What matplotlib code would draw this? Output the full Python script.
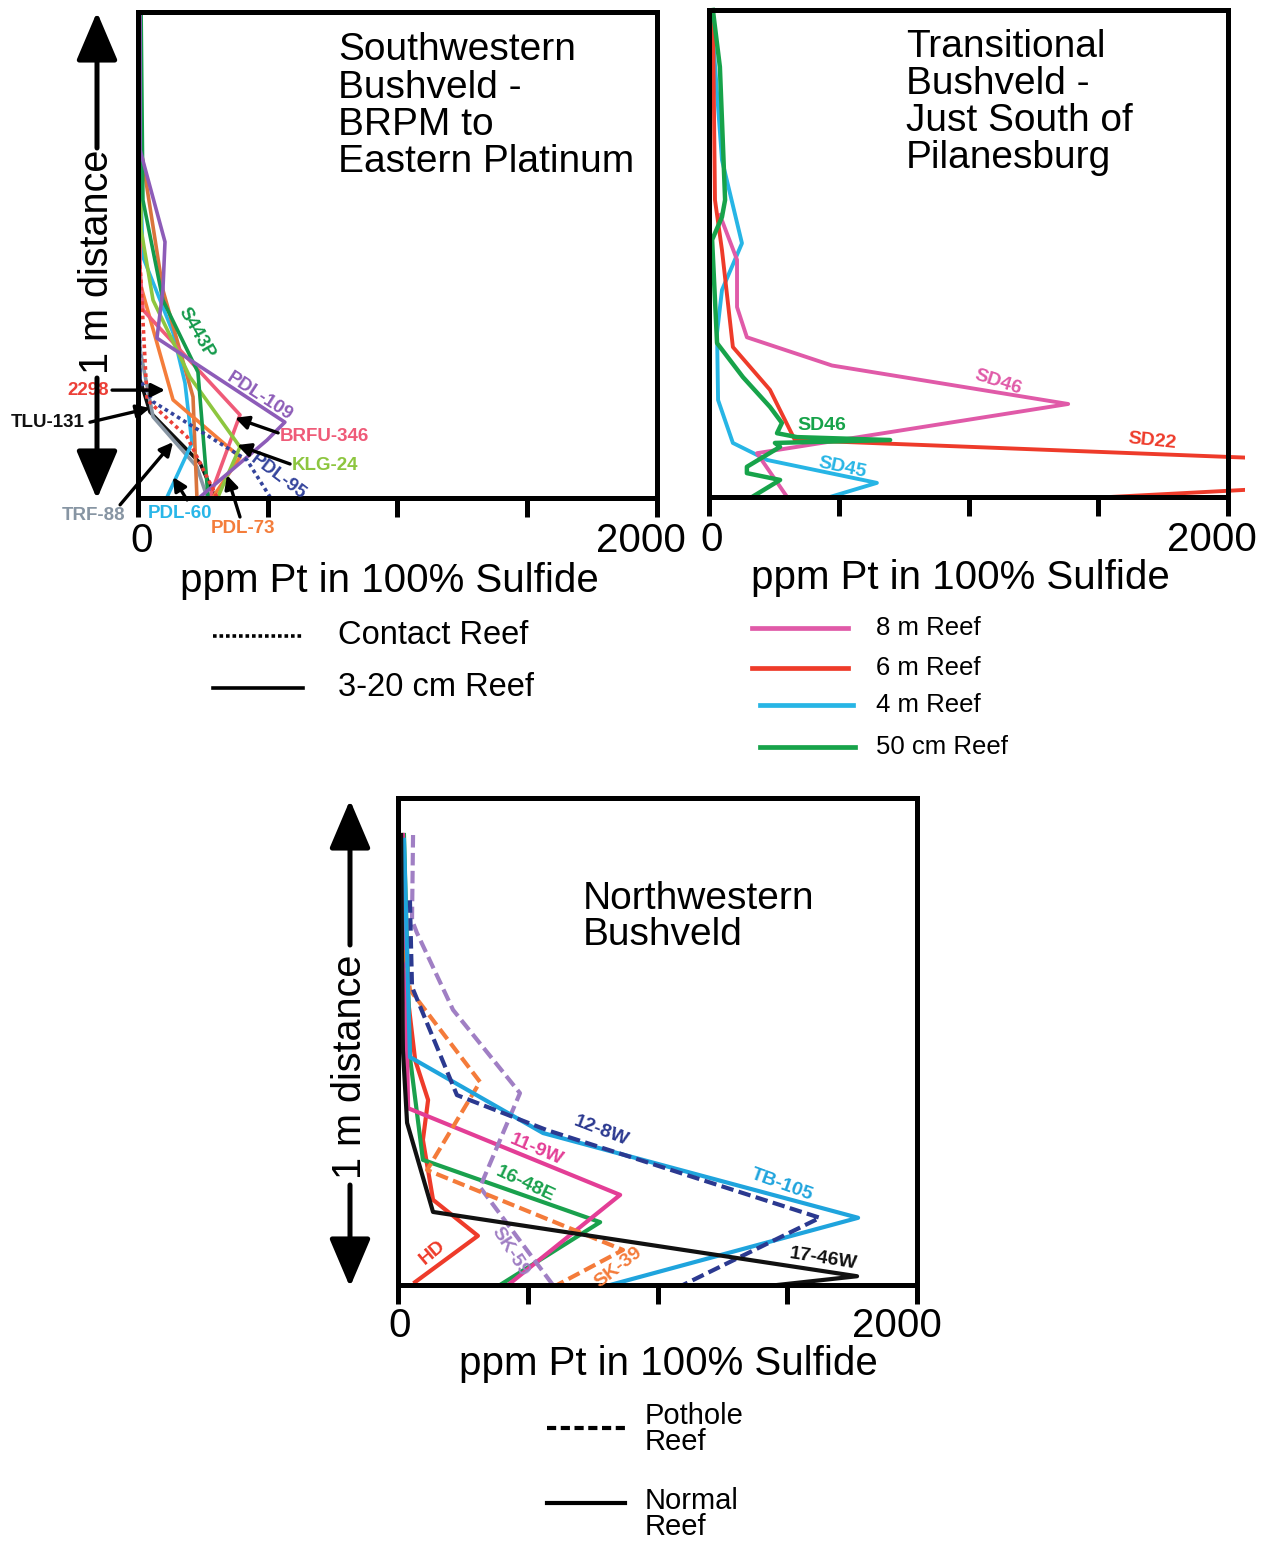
import matplotlib
matplotlib.use('Agg')
import matplotlib.pyplot as plt
import matplotlib.transforms as mtransforms
from matplotlib.lines import Line2D
from matplotlib.patches import FancyArrowPatch, Rectangle, ArrowStyle

plt.rcParams['font.family'] = ['Liberation Sans', 'DejaVu Sans']

# x = ppm Pt in 100% sulfide, y = position inside the 1 m window (0 = base, 100 = top)

# --- Southwestern Bushveld - BRPM to Eastern Platinum
sw_pdl109_x = [8, 8, 104, 96, 73, 566, 497, 239]
sw_pdl109_y = [100, 71.6, 52.7, 42.8, 32.9, 15.6, 11.9, 0.2]
sw_s443p_x = [12, 19, 96, 231, 270]
sw_s443p_y = [100, 61.3, 40.7, 25.9, 0.2]
sw_klg24_x = [8, 12, 58, 200, 393, 308]
sw_klg24_y = [100, 55.2, 40.7, 24.9, 10.5, 0.2]
sw_brfu346_x = [4, 8, 19, 393, 277]
sw_brfu346_y = [100, 46.9, 38.7, 17.1, 0.2]
sw_pdl73_x = [4, 8, 135, 393, 289]
sw_pdl73_y = [100, 44.2, 20.2, 8.4, 0.2]
sw_orange_x = [8, 12, 96, 212, 227]
sw_orange_y = [100, 71.6, 42.8, 20.8, 0.2]
sw_pdl60_x = [8, 12, 19, 135, 181, 208, 112]
sw_pdl60_y = [100, 61.3, 49.6, 34, 23.7, 11.3, 0.2]
sw_2298_x = [8, 19, 35, 189, 304]
sw_2298_y = [47.9, 36.6, 20.2, 12.6, 0.2]
sw_pdl95_x = [4, 8, 58, 420, 509]
sw_pdl95_y = [40, 24.3, 19.8, 7.8, 0.2]
sw_trf88_x = [0, 8, 58, 227, 266]
sw_trf88_y = [40.7, 30.5, 16.7, 6.4, 0.2]
sw_tlu131_x = [0, 8, 46, 239, 297]
sw_tlu131_y = [38.7, 24.3, 17.7, 7.2, 0.2]

# --- Transitional Bushveld - just south of Pilanesburg
tr_sd46_8m_x = [42, 108, 108, 146, 474, 1384, 185, 301]
tr_sd46_8m_y = [57.9, 48.7, 39.0, 32.8, 27.0, 19.1, 9.0, 0]
tr_sd22_x = [15, 23, 50, 92, 235, 331, 2400, 2400, 1545]
tr_sd22_y = [100, 61, 50.7, 30.8, 22, 11.7, 7.4, 2.4, 0]
tr_sd45_x = [8, 50, 127, 50, 31, 35, 92, 224, 647, 466]
tr_sd45_y = [99.6, 69.2, 52.1, 42.5, 33.7, 19.9, 11.1, 7.6, 2.9, 0]
tr_sd46_50_x = [15, 42, 62, 50, 12, 31, 131, 235, 281, 262, 339, 698, 254, 274, 146, 146, 274, 166]
tr_sd46_50_y = [100, 88.3, 61, 57.5, 52.8, 31.6, 24.6, 18.5, 15.2, 13.1, 12.3, 11.7, 11.1, 10.3, 6.2, 4.9, 3.5, 0]

# --- Northwestern Bushveld
nw_1746w_x = [12, 19, 35, 135, 1769, 1461]
nw_1746w_y = [92.4, 48.2, 33.3, 15.0, 1.8, 0]
nw_tb105_x = [23, 46, 559, 1773, 817]
nw_tb105_y = [91.4, 46.8, 31.2, 13.8, 0]
nw_128w_x = [46, 54, 227, 574, 1626, 1098]
nw_128w_y = [79, 61.2, 39, 31.8, 13.8, 0]
nw_sk59_x = [58, 54, 73, 212, 470, 316, 597]
nw_sk59_y = [92.4, 74.9, 72.3, 56.5, 39.4, 20.1, 0]
nw_sk39_x = [27, 46, 316, 112, 867, 613]
nw_sk39_y = [68.8, 60.6, 41.7, 23.6, 7.2, 0]
nw_hd_x = [15, 39, 66, 116, 96, 135, 308, 66]
nw_hd_y = [92.4, 58.5, 46.2, 38, 29.8, 17.5, 10.1, 0.6]
nw_119w_x = [19, 31, 39, 856, 424]
nw_119w_y = [92.4, 58.5, 36.3, 18.5, 0]
nw_1648e_x = [23, 46, 96, 779, 393]
nw_1648e_y = [92.4, 46.8, 25.7, 12.9, 0]

x_ticks = [0, 500, 1000, 1500, 2000]

W, H = 1271, 1541
fig = plt.figure(figsize=(W / 100, H / 100), dpi=100)


def fx(px):
    return px / W


def fy(py):
    return 1 - py / H


def make_axes(left, top, right, bottom, lab_y, xlab_x, xlab_y, zero_x, end_x):
    ax = fig.add_axes([fx(left), fy(bottom), (right - left) / W, (bottom - top) / H])
    ax.set_xlim(0, 2000)
    ax.set_ylim(0, 100)
    ax.set_yticks([])
    ax.set_xticks(x_ticks)
    ax.tick_params(axis='x', direction='out', length=14, width=3.6, labelbottom=False)
    for s in ax.spines.values():
        s.set_linewidth(3.6)
    blend = mtransforms.blended_transform_factory(ax.transData, ax.transAxes)
    ax.text(zero_x, lab_y, '0', transform=blend, ha='center', va='center', fontsize=29)
    ax.text(end_x, lab_y, '2000', transform=blend, ha='center', va='center', fontsize=29)
    ax.text(xlab_x, xlab_y, 'ppm Pt in 100% Sulfide', transform=ax.transAxes,
            ha='center', va='center', fontsize=29)
    return ax


def dist_arrow(x, top, bottom, text_top, text_bottom, text_mid):
    style = ArrowStyle('-|>', head_length=0.4, head_width=0.17)
    for a, b in [((x, text_top), (x, top)), ((x, text_bottom), (x, bottom))]:
        fig.add_artist(FancyArrowPatch((fx(a[0]), fy(a[1])), (fx(b[0]), fy(b[1])),
                                       transform=fig.transFigure, arrowstyle=style,
                                       mutation_scale=75, lw=3.6, color='k',
                                       shrinkA=0, shrinkB=0))
    fig.text(fx(x), fy(text_mid), '1 m distance', rotation=90,
             ha='center', va='center', fontsize=28.5)


def legend_line(x0, x1, y, **kw):
    fig.add_artist(Line2D([fx(x0), fx(x1)], [fy(y), fy(y)], transform=fig.transFigure, **kw))


# ================= panel 1
ax1 = make_axes(138, 12, 657, 498, -0.088, 0.485, -0.17, 14, 1940)
ax1.text(0.385, 0.958, 'Southwestern\nBushveld -\nBRPM to\nEastern Platinum',
         transform=ax1.transAxes, ha='left', va='top', fontsize=28, linespacing=1.04)

sw_series = [
    (sw_tlu131_x, sw_tlu131_y, '#111111', '-'),
    (sw_trf88_x, sw_trf88_y, '#8795a3', '-'),
    (sw_pdl60_x, sw_pdl60_y, '#29b6e8', '-'),
    (sw_orange_x, sw_orange_y, '#d9743c', '-'),
    (sw_pdl73_x, sw_pdl73_y, '#f47d3b', '-'),
    (sw_brfu346_x, sw_brfu346_y, '#ef5b78', '-'),
    (sw_klg24_x, sw_klg24_y, '#8dc63f', '-'),
    (sw_s443p_x, sw_s443p_y, '#149a4b', '-'),
    (sw_pdl109_x, sw_pdl109_y, '#8d5cb8', '-'),
    (sw_2298_x, sw_2298_y, '#ec3f37', (0, (1, 1))),
    (sw_pdl95_x, sw_pdl95_y, '#34449c', (0, (1, 1))),
]
for xs, ys, c, ls in sw_series:
    ax1.plot(xs, ys, color=c, ls=ls, lw=2.6, clip_on=False, zorder=2)

lab = dict(fontsize=13.5, fontweight='bold', ha='center', va='center')
ax1.text(227, 34, 'S443P', color='#149a4b', rotation=-60, **lab)
ax1.text(470, 20.8, 'PDL-109', color='#8d5cb8', rotation=-33, **lab)
ax1.text(540, 4.3, 'PDL-95', color='#34449c', rotation=-37, **lab)

arrow_kw = dict(arrowstyle='-|>', color='k', lw=2.4, mutation_scale=20, shrinkA=0, shrinkB=0)
callouts = [
    ('2298', '#ec3f37', (-193, 22.2), (-100, 22.2), (104, 22.2), 'center'),
    ('TLU-131', '#111111', (-347, 15.6), (-185, 15.6), (46, 18.5), 'center'),
    ('BRFU-346', '#ef5b78', (547, 12.6), (540, 13.4), (374, 16.5), 'left'),
    ('KLG-24', '#8dc63f', (594, 6.6), (586, 7.0), (382, 10.9), 'left'),
    ('TRF-88', '#8795a3', (-170, -3.5), (-69, -1.4), (135, 11.5), 'center'),
    ('PDL-60', '#29b6e8', (162, -3.1), (189, -0.4), (135, 4.3), 'center'),
    ('PDL-73', '#f47d3b', (405, -6.2), (393, -3.9), (343, 4.7), 'center'),
]
for s, c, tpos, tail, head, ha in callouts:
    ax1.annotate('', xy=head, xytext=tail, arrowprops=arrow_kw, annotation_clip=False)
    ax1.text(tpos[0], tpos[1], s, color=c, fontsize=13.5, fontweight='bold',
             ha=ha, va='center')

dist_arrow(97, 12, 499, 148, 378, 262)

legend_line(213, 303, 636, color='k', lw=2.6, ls=(0, (1, 0.8)))
legend_line(213, 303, 688, color='k', lw=2.6)
fig.text(fx(338), fy(636), 'Contact Reef', ha='left', va='center', fontsize=23.5)
fig.text(fx(338), fy(688), '3-20 cm Reef', ha='left', va='center', fontsize=23.5)

# ================= panel 2
ax2 = make_axes(709, 10, 1228, 497, -0.088, 0.484, -0.166, 12, 1938)
ax2.text(0.38, 0.962, 'Transitional\nBushveld -\nJust South of\nPilanesburg',
         transform=ax2.transAxes, ha='left', va='top', fontsize=28, linespacing=1.04)

c_pink, c_red, c_cyan, c_green = '#e05aa8', '#ee3b2a', '#27b5e5', '#17a34a'
ax2.plot(tr_sd45_x, tr_sd45_y, color=c_cyan, lw=2.8, clip_on=False)
ax2.plot(tr_sd46_8m_x, tr_sd46_8m_y, color=c_pink, lw=2.8, clip_on=False)
red_line, = ax2.plot(tr_sd22_x, tr_sd22_y, color=c_red, lw=2.8)
red_line.set_clip_path(Rectangle((-0.05, -0.05), 1.083, 1.1, transform=ax2.transAxes))
ax2.plot(tr_sd46_50_x, tr_sd46_50_y, color=c_green, lw=3.2, clip_on=False)

lab2 = dict(fontsize=14, fontweight='bold', ha='center', va='center')
ax2.text(1114, 23.5, 'SD46', color=c_pink, rotation=-18, **lab2)
ax2.text(435, 14.6, 'SD46', color=c_green, **lab2)
ax2.text(1707, 11.5, 'SD22', color=c_red, rotation=-6, **lab2)
ax2.text(513, 6.0, 'SD45', color=c_cyan, rotation=-12, **lab2)

for y, x0, x1, c, s in [(628, 752, 848, c_pink, '8 m Reef'),
                        (668, 752, 848, c_red, '6 m Reef'),
                        (705, 760, 853, c_cyan, '4 m Reef'),
                        (747, 760, 855, c_green, '50 cm Reef')]:
    legend_line(x0, x1, y, color=c, lw=3.4)
    fig.text(fx(876), fy(y), s, ha='left', va='center', fontsize=18.5)

# ================= panel 3
ax3 = make_axes(398, 798, 917, 1285, -0.084, 0.52, -0.162, 8, 1923)
ax3.text(0.356, 0.83, 'Northwestern\nBushveld', transform=ax3.transAxes,
         ha='left', va='top', fontsize=28, linespacing=1.0)

dash = (0, (3, 1.3))
nw_series = [
    (nw_hd_x, nw_hd_y, '#ee3b2a', '-'),
    (nw_1648e_x, nw_1648e_y, '#1aa14d', '-'),
    (nw_119w_x, nw_119w_y, '#e33e96', '-'),
    (nw_sk59_x, nw_sk59_y, '#a07fc4', dash),
    (nw_sk39_x, nw_sk39_y, '#f47b3a', dash),
    (nw_tb105_x, nw_tb105_y, '#1fa4dd', '-'),
    (nw_128w_x, nw_128w_y, '#2b3990', dash),
    (nw_1746w_x, nw_1746w_y, '#111111', '-'),
]
for xs, ys, c, ls in nw_series:
    ax3.plot(xs, ys, color=c, ls=ls, lw=3.0, clip_on=False)

lab3 = dict(fontsize=14, fontweight='bold', ha='center', va='center')
ax3.text(782, 31.6, '12-8W', color='#2b3990', rotation=-21, **lab3)
ax3.text(532, 27.7, '11-9W', color='#e33e96', rotation=-23, **lab3)
ax3.text(489, 20.7, '16-48E', color='#1aa14d', rotation=-25, **lab3)
ax3.text(1480, 20.5, 'TB-105', color='#1fa4dd', rotation=-20, **lab3)
ax3.text(1638, 5.3, '17-46W', color='#111111', rotation=-9, **lab3)
ax3.text(135, 6.6, 'HD', color='#ee3b2a', rotation=40, **lab3)
ax3.text(432, 6.8, 'SK-59', color='#a07fc4', rotation=-57, **lab3)
ax3.text(848, 3.7, 'SK-39', color='#f47b3a', rotation=38, **lab3)

dist_arrow(350, 800, 1287, 945, 1185, 1067)

legend_line(547, 625, 1428, color='k', lw=3.0, ls=(0, (2.2, 1.1)))
legend_line(547, 625, 1503, color='k', lw=3.0)
fig.text(fx(645), fy(1429), 'Pothole\nReef', ha='left', va='center', fontsize=21, linespacing=0.95)
fig.text(fx(645), fy(1514), 'Normal\nReef', ha='left', va='center', fontsize=21, linespacing=0.95)

fig.savefig('out.png', dpi=100, facecolor='white')
